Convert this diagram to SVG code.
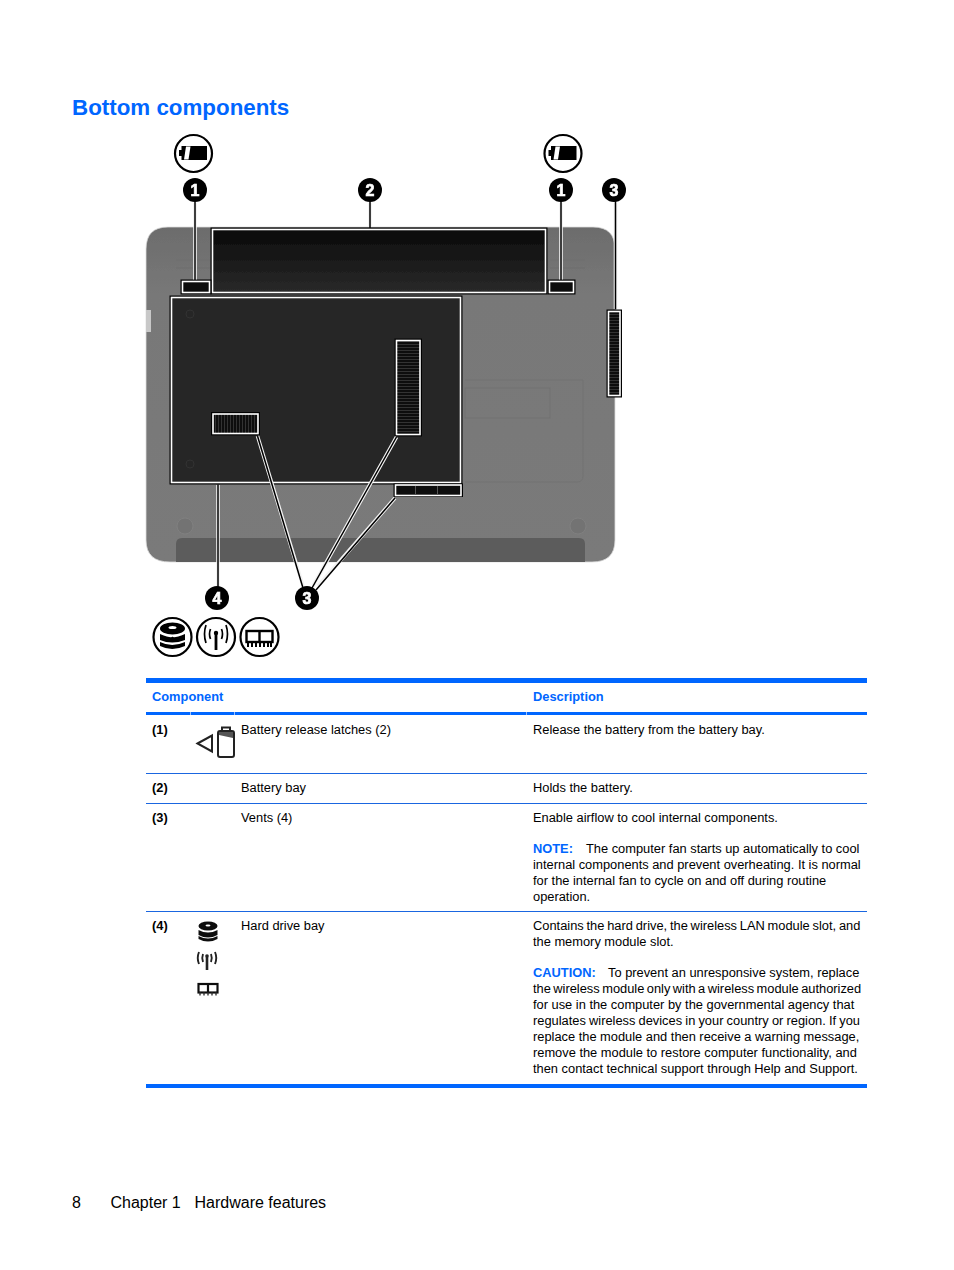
<svg xmlns="http://www.w3.org/2000/svg" width="954" height="1270" viewBox="0 0 954 1270">
<defs>
<filter id="soft" x="-2%" y="-2%" width="104%" height="104%"><feGaussianBlur stdDeviation="0.55"/></filter>
<filter id="softer" x="-10%" y="-10%" width="120%" height="120%"><feGaussianBlur stdDeviation="0.4"/></filter>
<linearGradient id="body" x1="0" y1="0" x2="0" y2="1"><stop offset="0" stop-color="#6c6c6c"/><stop offset="0.2" stop-color="#787878"/><stop offset="1" stop-color="#7a7a7a"/></linearGradient>
<linearGradient id="bayfill" x1="0" y1="0" x2="0" y2="1"><stop offset="0" stop-color="#0a0a0a"/><stop offset="1" stop-color="#2a2a2a"/></linearGradient>
<pattern id="ventV" width="4" height="3" patternUnits="userSpaceOnUse"><rect width="4" height="3" fill="#0a0a0a"/><rect y="2" width="4" height="1" fill="#333"/></pattern>
<pattern id="ventH" width="3" height="4" patternUnits="userSpaceOnUse"><rect width="3" height="4" fill="#0a0a0a"/><rect x="2" width="1" height="4" fill="#333"/></pattern>
<g id="batt-icon"><circle r="18.500" fill="#fff" stroke="#000" stroke-width="2.200"/><path d="M-14.500-3h2.500v-4h25.500v14h-25.500v-4h-2.500z" fill="#000" transform="translate(0,-.5)"/><path d="M-7.500-7h4.500l-2 13h-4.500z" fill="#fff"/></g>
</defs>
<style>
text{font-family:"Liberation Sans",Arial,sans-serif;fill:#000}
.t{font-size:12.85px}
.b{font-size:12.85px;font-weight:bold}
.h{font-size:12.85px;font-weight:bold;fill:#0066ff}
.num{font-size:16px;font-weight:bold;fill:#fff;stroke:#fff;stroke-width:.7;text-anchor:middle}
.lw{stroke:#f2f2f2;stroke-width:3.6;fill:none}
.lb{stroke:#000;stroke-width:1.500;fill:none}
.rule{fill:#0066ff}
.thin{fill:#1a66e0}
</style>
<rect width="954" height="1270" fill="#fff"/>
<text x="72" y="114.500" font-size="22.350" font-weight="bold" style="fill:#0066ff">Bottom components</text>

<g id="figure" filter="url(#soft)">
<g id="laptop">
<path d="M168 227H593Q615 227 615 249V540Q615 562 592 562H170Q146 562 146 540V249Q146 227 168 227Z" fill="url(#body)" stroke="#ddd" stroke-width=".8"/>
<path d="M182 538H579Q585 538 585 544V562H176V544Q176 538 182 538Z" fill="#5c5c5c"/>
<rect x="146" y="310" width="5" height="22" fill="#c8c8c8"/>
<path d="M465 380H583V476Q583 482 577 482H465" fill="none" stroke="#727272"/>
<rect x="465" y="388" width="85" height="30" fill="none" stroke="#707070"/>
<circle cx="185" cy="526" r="8" fill="#737373" stroke="#808080"/>
<circle cx="578" cy="526" r="8" fill="#737373" stroke="#808080"/>
<path d="M176 260H210M176 268H210M550 260H585M550 268H585" stroke="#6e6e6e"/>
</g>
<g id="battery-bay"><rect x="210.500" y="227.500" width="337" height="67" fill="#000"/><rect x="212.500" y="229.500" width="333" height="63" fill="url(#bayfill)" stroke="#fff" stroke-width="1.600"/></g>
<g id="latch-left"><rect x="180.500" y="279.500" width="31" height="15" fill="#000"/><rect x="182.500" y="281.500" width="27" height="11" fill="#111" stroke="#fff" stroke-width="1.600"/></g>
<g id="latch-right"><rect x="547.500" y="279.500" width="28" height="15" fill="#000"/><rect x="549.500" y="281.500" width="24" height="11" fill="#111" stroke="#fff" stroke-width="1.600"/></g>
<g id="drive-bay"><rect x="169.500" y="295.500" width="293" height="189" fill="#000"/><rect x="171.500" y="297.500" width="289" height="185" fill="#262626" stroke="#fff" stroke-width="1.600"/>
<circle cx="190" cy="314" r="4" fill="none" stroke="#333"/><circle cx="190" cy="464" r="4" fill="none" stroke="#333"/></g>
<g id="vent-center"><rect x="394.500" y="338.500" width="27.500" height="98" fill="#000"/><rect x="396.500" y="340.500" width="23.500" height="94" fill="url(#ventV)" stroke="#fff" stroke-width="1.600"/></g>
<g id="vent-left"><rect x="211" y="412" width="49" height="23.500" fill="#000"/><rect x="213" y="414" width="45" height="19.500" fill="url(#ventH)" stroke="#fff" stroke-width="1.600"/></g>
<g id="vent-bottom"><rect x="393.500" y="483.500" width="69.500" height="13.500" fill="#000"/><rect x="395.500" y="485" width="65.500" height="10.500" fill="#111" stroke="#fff" stroke-width="1.600"/><path d="M415.500 486V495M437.500 486V495" stroke="#555"/></g>
<g id="vent-right"><rect x="606.500" y="309.500" width="15.500" height="88" fill="#000"/><rect x="608.500" y="311.500" width="11.500" height="84" fill="url(#ventV)" stroke="#fff" stroke-width="1.600"/></g>

<g id="connectors">
<path class="lw" d="M195 203V279.500M370 203V227M561 203V279.500M615.500 203V309M218 485V586M257.500 436L303 586M396.500 437L313 586M395 498L318 586"/>
<path class="lb" d="M195 200V280M370 200V228M561 200V280M615.500 200V309.500M218 484.500V590M257.500 436L303 588M396.500 437L312 588M395 498L316 590"/>
</g>

<g id="callout-1a"><circle cx="195" cy="190" r="12" fill="#000"/><text class="num" x="195" y="195.500">1</text></g>
<g id="callout-2"><circle cx="370" cy="190" r="12" fill="#000"/><text class="num" x="370" y="195.500">2</text></g>
<g id="callout-1b"><circle cx="561" cy="190" r="12" fill="#000"/><text class="num" x="561" y="195.500">1</text></g>
<g id="callout-3a"><circle cx="614" cy="190" r="12" fill="#000"/><text class="num" x="614" y="195.500">3</text></g>
<g id="callout-4"><circle cx="217" cy="598" r="12" fill="#000"/><text class="num" x="217" y="603.500">4</text></g>
<g id="callout-3b"><circle cx="307" cy="598" r="12" fill="#000"/><text class="num" x="307" y="603.500">3</text></g>

<g id="icon-battery-left"><use href="#batt-icon" x="193.500" y="153.500"/></g>
<g id="icon-battery-right"><use href="#batt-icon" x="563" y="153.500"/></g>
<g id="icon-disk"><circle cx="172.500" cy="637" r="19" fill="#fff" stroke="#000" stroke-width="2.200"/>
<ellipse cx="172.500" cy="628.500" rx="12.500" ry="6" fill="#000"/><ellipse cx="172.500" cy="627.500" rx="4" ry="1.600" fill="#fff"/><path d="M160 634Q172 639 172.500 636.500Q173 639 185 634V640Q172 645 160 640Z" fill="#000"/><path d="M160 642Q172 648 185 642V646Q172 652 160 646Z" fill="#000"/></g>
<g id="icon-wifi"><circle cx="216" cy="637" r="19" fill="#fff" stroke="#000" stroke-width="2.200"/>
<circle cx="216" cy="633" r="2.200" fill="#000"/><path d="M216 634V650" stroke="#000" stroke-width="2.800"/><path d="M210.500 629Q208.500 634 210.500 639M221.500 629Q223.500 634 221.500 639M206 625Q203 634 206 643M226 625Q229 634 226 643" fill="none" stroke="#000" stroke-width="1.700"/></g>
<g id="icon-memory"><circle cx="259.500" cy="637" r="19" fill="#fff" stroke="#000" stroke-width="2.200"/>
<rect x="246.500" y="631" width="26" height="11" fill="none" stroke="#000" stroke-width="2.400"/><path d="M259.500 631V642" stroke="#000" stroke-width="2.400"/><path d="M248 642V647M252 642V647M256 642V647M260 642V647M264 642V647M268 642V647M271 642V647" stroke="#000" stroke-width="2"/></g>
</g>

<g id="table">
<rect class="rule" x="146" y="678" width="721" height="5"/>
<rect class="rule" x="146" y="712" width="721" height="3"/>
<rect x="190" y="712" width="1" height="3" fill="#9cc2ff"/><rect x="234" y="712" width="1" height="3" fill="#9cc2ff"/><rect x="526" y="712" width="1" height="3" fill="#9cc2ff"/>
<rect class="rule" x="146" y="1084" width="721" height="4"/>
<rect class="thin" x="146" y="773" width="721" height="1"/>
<rect class="thin" x="146" y="803" width="721" height="1"/>
<rect class="thin" x="146" y="911" width="721" height="1"/>
<text class="h" x="152" y="701">Component</text>
<text class="h" x="533" y="701">Description</text>
<text class="b" x="152" y="734">(1)</text>
<text class="t" x="241" y="734">Battery release latches (2)</text>
<text class="t" x="533" y="734">Release the battery from the battery bay.</text>
<text class="b" x="152" y="792">(2)</text>
<text class="t" x="241" y="792">Battery bay</text>
<text class="t" x="533" y="792">Holds the battery.</text>
<text class="b" x="152" y="822">(3)</text>
<text class="t" x="241" y="822">Vents (4)</text>
<text class="t" x="533" y="822">Enable airflow to cool internal components.</text>
<text class="h" x="533" y="853">NOTE:</text>
<text class="t" x="586" y="853">The computer fan starts up automatically to cool</text>
<text class="t" x="533" y="869">internal components and prevent overheating. It is normal</text>
<text class="t" x="533" y="885">for the internal fan to cycle on and off during routine</text>
<text class="t" x="533" y="901">operation.</text>
<text class="b" x="152" y="930">(4)</text>
<text class="t" x="241" y="930">Hard drive bay</text>
<text class="t" x="533" y="930" word-spacing="-.75">Contains the hard drive, the wireless LAN module slot, and</text>
<text class="t" x="533" y="946">the memory module slot.</text>
<text class="h" x="533" y="977">CAUTION:</text>
<text class="t" x="608" y="977">To prevent an unresponsive system, replace</text>
<text class="t" x="533" y="993" word-spacing="-1.100">the wireless module only with a wireless module authorized</text>
<text class="t" x="533" y="1009">for use in the computer by the governmental agency that</text>
<text class="t" x="533" y="1025" word-spacing="-.4">regulates wireless devices in your country or region. If you</text>
<text class="t" x="533" y="1041">replace the module and then receive a warning message,</text>
<text class="t" x="533" y="1057">remove the module to restore computer functionality, and</text>
<text class="t" x="533" y="1073">then contact technical support through Help and Support.</text>
</g>
<g id="table-icon-latch" filter="url(#softer)"><path d="M197.500 743.500L212 735.500V751.500Z" fill="none" stroke="#222" stroke-width="2"/><rect x="218" y="731" width="16" height="26" rx="2" fill="none" stroke="#222" stroke-width="2"/><path d="M222 731V727.500H230V731" fill="none" stroke="#222" stroke-width="2"/><path d="M219 732H233V738L219 735Z" fill="#555"/></g>
<g id="table-icon-disk" filter="url(#softer)"><ellipse cx="208" cy="926" rx="9.500" ry="4.500" fill="#111"/><ellipse cx="208" cy="925.500" rx="2.500" ry="1" fill="#fff"/><path d="M198.500 930Q208 935 217.500 930V935Q208 940 198.500 935Z" fill="#111"/><path d="M198.500 936Q208 941 217.500 936V939Q208 944 198.500 939Z" fill="#111"/></g>
<g id="table-icon-wifi" filter="url(#softer)"><path d="M207 957V970" stroke="#222" stroke-width="2.600"/><circle cx="207" cy="956" r="1.800" fill="#222"/><path d="M203 954Q201.500 958 203 962M211 954Q212.500 958 211 962M199 952Q196.500 958 199 964M215 952Q217.500 958 215 964" fill="none" stroke="#222" stroke-width="1.900"/></g>
<g id="table-icon-memory" filter="url(#softer)"><rect x="198.500" y="984" width="19" height="8.500" fill="none" stroke="#111" stroke-width="2.200"/><path d="M208 984V992.500" stroke="#111" stroke-width="2.200"/><path d="M200 992.500V995.500M204 992.500V995.500M208 992.500V995.500M212 992.500V995.500M216 992.500V995.500" stroke="#333" stroke-width="1.400"/></g>

<g id="footer"><text x="72" y="1208" font-size="16">8</text><text x="110.500" y="1208" font-size="16">Chapter 1</text><text x="194.500" y="1208" font-size="16">Hardware features</text></g>
</svg>
